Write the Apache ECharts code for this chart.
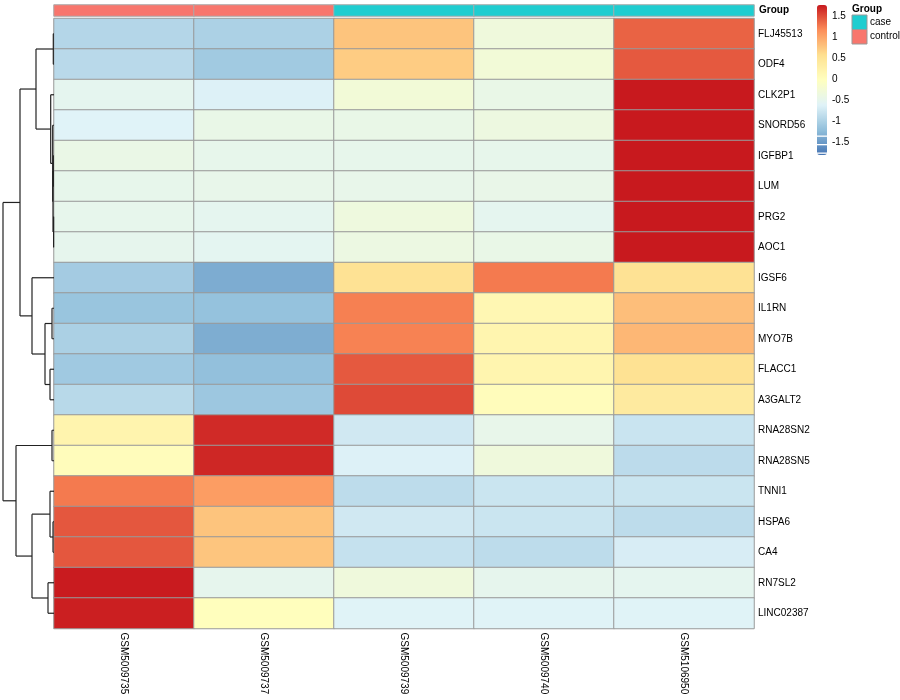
<!DOCTYPE html>
<html>
<head>
<meta charset="utf-8">
<script src="https://cdn.jsdelivr.net/npm/echarts@6/dist/echarts.min.js"></script>
<style>html,body{margin:0;padding:0;background:#fff;}#chart{width:900px;height:700px;}</style>
</head>
<body>
<div id="chart"></div>
<script>
const rowLabels = ['FLJ45513','ODF4','CLK2P1','SNORD56','IGFBP1','LUM','PRG2','AOC1','IGSF6','IL1RN','MYO7B','FLACC1','A3GALT2','RNA28SN2','RNA28SN5','TNNI1','HSPA6','CA4','RN7SL2','LINC02387'];
const colLabels = ['GSM5009735','GSM5009737','GSM5009739','GSM5009740','GSM5106950'];
const colGroups = ['control','control','case','case','case'];
const groupNames = ['case','control'];
const groupColors = ['#1FCDD0','#F8766D'];

const valsGSM5009735 = [-0.93,-0.89,-0.50,-0.60,-0.41,-0.46,-0.47,-0.48,-1.05,-1.13,-1.00,-1.08,-0.90,0.22,0.05,1.29,1.47,1.47,1.78,1.76];
const valsGSM5009737 = [-0.99,-1.07,-0.62,-0.42,-0.46,-0.45,-0.50,-0.52,-1.35,-1.16,-1.34,-1.18,-1.10,1.70,1.72,1.08,0.80,0.79,-0.48,0.02];
const valsGSM5009739 = [0.80,0.74,-0.25,-0.42,-0.46,-0.45,-0.32,-0.37,0.55,1.26,1.25,1.46,1.54,-0.72,-0.62,-0.86,-0.72,-0.80,-0.30,-0.59];
const valsGSM5009740 = [-0.30,-0.25,-0.42,-0.35,-0.46,-0.43,-0.50,-0.42,1.29,0.15,0.20,0.20,0.05,-0.45,-0.30,-0.76,-0.76,-0.86,-0.48,-0.59];
const valsGSM5106950 = [1.41,1.46,1.79,1.79,1.79,1.79,1.79,1.79,0.55,0.84,0.89,0.56,0.40,-0.77,-0.87,-0.76,-0.86,-0.66,-0.50,-0.59];

const scaleMin = -1.79, scaleMax = 1.79;
const legendTicks = [1.5, 1, 0.5, 0, -0.5, -1, -1.5];
const palette = ['#4575B4','#91BFDB','#E0F3F8','#FFFFBF','#FEE090','#FC8D59','#C8191E'];

// Row dendrogram, hclust-style merges: negative = leaf (row index+1), positive = earlier merge (1-based); third = height
const dendroMerge = [
  [-1,-2,0.7],
  [-5,-6,0.7],
  [-7,-8,0.4],
  [2,3,1.0],
  [-4,4,1.3],
  [-3,5,3.3],
  [1,6,18],
  [-10,-11,2],
  [-12,-13,4],
  [8,9,9],
  [-9,10,22],
  [7,11,34],
  [-14,-15,2],
  [-17,-18,1],
  [-16,14,4],
  [-19,-20,6],
  [15,16,22],
  [13,17,38],
  [12,18,51]
];
const dendroMaxHeight = 51;

// ---- build data ----
const colValues = [valsGSM5009735, valsGSM5009737, valsGSM5009739, valsGSM5009740, valsGSM5106950];
const heatData = [];
colValues.forEach((arr, c) => arr.forEach((v, r) => heatData.push([c, r, v])));
const annotData = colGroups.map((g, c) => [c, 0, groupNames.indexOf(g)]);

const nodes = [];
const segs = [];
function info(id) { return id < 0 ? { y: -id - 1 + 0.5, h: 0 } : nodes[id - 1]; }
dendroMerge.forEach(([l, r, h]) => {
  const a = info(l), b = info(r);
  segs.push([a.h, a.y, h, a.y]);
  segs.push([h, a.y, h, b.y]);
  segs.push([b.h, b.y, h, b.y]);
  nodes.push({ y: (a.y + b.y) / 2, h: h });
});

const FONT = "'Liberation Sans', Arial, Helvetica, sans-serif";
const barTop = 5, barH = 150, barLeft = 817, barW = 10;

const graphics = [];
legendTicks.forEach(t => {
  graphics.push({
    type: 'text', left: barLeft + barW + 5, top: barTop + (scaleMax - t) / (scaleMax - scaleMin) * barH - 6,
    style: { text: String(t), font: '10px ' + FONT, fill: '#000' }
  });
});
// small white seams in the lower part of the colour key, as in the reference rendering
[135.5, 144, 152.5].forEach(y => {
  graphics.push({ type: 'rect', z: 100, shape: { x: barLeft, y: y, width: barW, height: 1.3 }, style: { fill: '#fff' } });
});
graphics.push({ type: 'text', left: 852, top: 4, style: { text: 'Group', font: 'bold 10px ' + FONT, fill: '#000' } });
groupNames.forEach((g, i) => {
  graphics.push({ type: 'rect', shape: { x: 852, y: 15 + i * 14.5, width: 15, height: 14.5 }, style: { fill: groupColors[i], stroke: '#999', lineWidth: 1 } });
  graphics.push({ type: 'text', left: 870, top: 17 + i * 14.5, style: { text: g, font: '10px ' + FONT, fill: '#000' } });
});

const chart = echarts.init(document.getElementById('chart'), null, { renderer: 'canvas' });
chart.setOption({
  backgroundColor: '#fff',
  animation: false,
  textStyle: { fontFamily: FONT },
  grid: [
    { left: 54, top: 18.5, width: 700, height: 610 },
    { left: 54, top: 5, width: 700, height: 11 },
    { left: 3, top: 18.5, width: 51, height: 610 }
  ],
  xAxis: [
    { type: 'category', gridIndex: 0, data: colLabels, position: 'bottom',
      axisLine: { show: false }, axisTick: { show: false }, splitLine: { show: false },
      axisLabel: { rotate: -90, margin: 4, fontSize: 10, color: '#000', fontFamily: FONT } },
    { type: 'category', gridIndex: 1, data: colLabels, show: false },
    { type: 'value', gridIndex: 2, min: 0, max: dendroMaxHeight, inverse: true, show: false }
  ],
  yAxis: [
    { type: 'category', gridIndex: 0, data: rowLabels, inverse: true, position: 'right',
      axisLine: { show: false }, axisTick: { show: false }, splitLine: { show: false },
      axisLabel: { margin: 4, fontSize: 10, color: '#000', fontFamily: FONT } },
    { type: 'category', gridIndex: 1, data: ['Group'], position: 'right',
      axisLine: { show: false }, axisTick: { show: false },
      axisLabel: { margin: 5, fontSize: 10, fontWeight: 'bold', color: '#000', fontFamily: FONT } },
    { type: 'value', gridIndex: 2, min: 0, max: rowLabels.length, inverse: true, show: false }
  ],
  visualMap: [
    { type: 'continuous', seriesIndex: 0, dimension: 2, min: scaleMin, max: scaleMax,
      inRange: { color: palette }, calculable: false, show: true, padding: 0,
      left: barLeft, top: barTop, itemWidth: barW, itemHeight: barH, text: null, hoverLink: false },
    { type: 'piecewise', seriesIndex: 1, dimension: 2, show: false,
      pieces: [{ value: 0, color: groupColors[0] }, { value: 1, color: groupColors[1] }] }
  ],
  series: [
    { type: 'heatmap', xAxisIndex: 0, yAxisIndex: 0, data: heatData,
      itemStyle: { borderColor: '#999', borderWidth: 1 }, emphasis: { disabled: true } },
    { type: 'heatmap', xAxisIndex: 1, yAxisIndex: 1, data: annotData,
      itemStyle: { borderColor: '#aaa', borderWidth: 1 }, emphasis: { disabled: true } },
    { type: 'custom', xAxisIndex: 2, yAxisIndex: 2, data: segs, silent: true,
      renderItem: function (params, api) {
        const p1 = api.coord([api.value(0), api.value(1)]);
        const p2 = api.coord([api.value(2), api.value(3)]);
        return { type: 'line', shape: { x1: p1[0], y1: p1[1], x2: p2[0], y2: p2[1] },
          style: { stroke: '#222', lineWidth: 1.2 } };
      } }
  ],
  graphic: graphics
});
</script>
</body>
</html>
